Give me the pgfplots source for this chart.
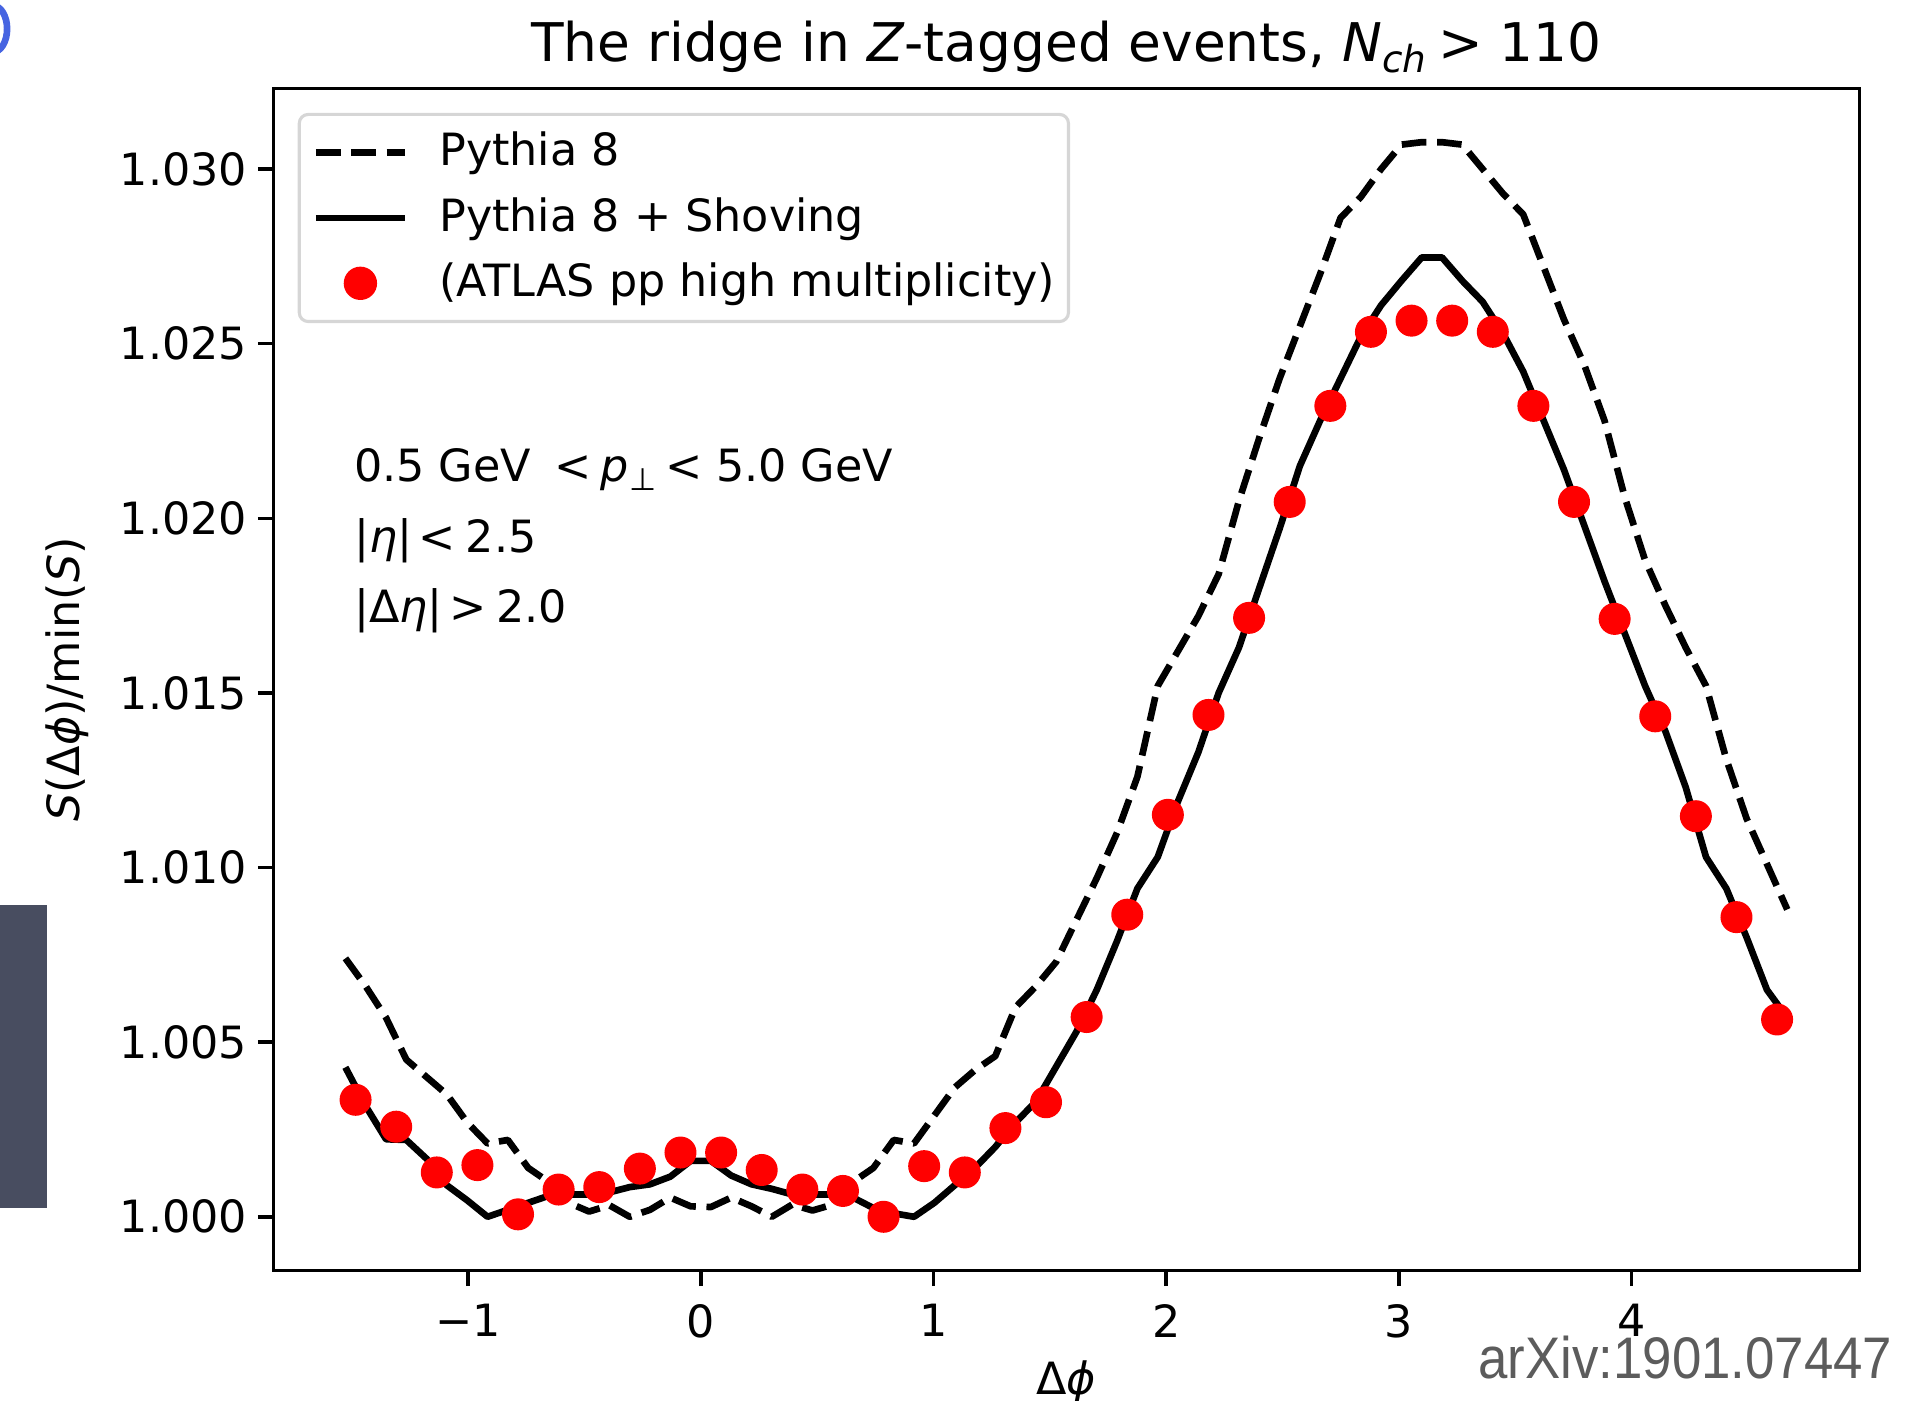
\documentclass[border=0pt]{standalone}
\usepackage{fontspec}
\setmainfont{DejaVu Sans}[ItalicFont={DejaVu Sans Oblique},BoldFont={DejaVu Sans Bold},BoldItalicFont={DejaVu Sans Bold Oblique}]
\newfontfamily\arxivfont{Liberation Sans}
\usepackage{pgfplots}
\pgfplotsset{compat=1.18}
\definecolor{legframe}{rgb}{0.84,0.84,0.84}
\definecolor{slidebar}{RGB}{72,77,96}
\definecolor{slideblue}{RGB}{70,100,225}
\definecolor{arxivgray}{RGB}{92,92,92}

\pgfplotstableread{
x y
-1.5272 1.00740
-1.4399 1.00660
-1.3526 1.00570
-1.2654 1.00450
-1.1781 1.00400
-1.0908 1.00350
-1.0036 1.00270
-0.9163 1.00210
-0.8290 1.00220
-0.7418 1.00140
-0.6545 1.00100
-0.5672 1.00040
-0.4800 1.00015
-0.3927 1.00033
-0.3054 1.00000
-0.2182 1.00020
-0.1309 1.00055
-0.0436 1.00030
0.0436 1.00028
0.1309 1.00055
0.2182 1.00030
0.3054 1.00000
0.3927 1.00035
0.4800 1.00018
0.5672 1.00035
0.6545 1.00100
0.7418 1.00140
0.8290 1.00220
0.9163 1.00210
1.0036 1.00290
1.0908 1.00370
1.1781 1.00420
1.2654 1.00460
1.3526 1.00600
1.4399 1.00660
1.5272 1.00730
1.6144 1.00850
1.7017 1.00970
1.7890 1.01100
1.8762 1.01260
1.9635 1.01520
2.0508 1.01620
2.1380 1.01720
2.2253 1.01840
2.3126 1.02050
2.3998 1.02230
2.4871 1.02400
2.5744 1.02550
2.6616 1.02700
2.7489 1.02860
2.8362 1.02920
2.9234 1.03000
3.0107 1.03070
3.0980 1.03077
3.1852 1.03077
3.2725 1.03070
3.3598 1.03000
3.4470 1.02930
3.5343 1.02870
3.6216 1.02720
3.7088 1.02570
3.7961 1.02440
3.8834 1.02280
3.9706 1.02060
4.0579 1.01880
4.1452 1.01750
4.2324 1.01630
4.3197 1.01520
4.4070 1.01310
4.4942 1.01140
4.5815 1.01010
4.6688 1.00880
}\pythia

\pgfplotstableread{
x y
-1.5272 1.00428
-1.4399 1.00317
-1.3526 1.00222
-1.2654 1.00220
-1.1781 1.00166
-1.0908 1.00090
-1.0036 1.00047
-0.9163 1.00000
-0.8290 1.00020
-0.7418 1.00040
-0.6545 1.00060
-0.5672 1.00064
-0.4800 1.00064
-0.3927 1.00070
-0.3054 1.00085
-0.2182 1.00093
-0.1309 1.00115
-0.0436 1.00160
0.0436 1.00160
0.1309 1.00118
0.2182 1.00093
0.3054 1.00080
0.3927 1.00064
0.4800 1.00064
0.5672 1.00064
0.6545 1.00055
0.7418 1.00025
0.8290 1.00010
0.9163 1.00000
1.0036 1.00040
1.0908 1.00090
1.1781 1.00140
1.2654 1.00200
1.3526 1.00270
1.4399 1.00330
1.5272 1.00430
1.6144 1.00530
1.7017 1.00650
1.7890 1.00790
1.8762 1.00940
1.9635 1.01030
2.0508 1.01190
2.1380 1.01330
2.2253 1.01500
2.3126 1.01630
2.3998 1.01800
2.4871 1.01970
2.5744 1.02150
2.6616 1.02280
2.7489 1.02400
2.8362 1.02520
2.9234 1.02610
3.0107 1.02680
3.0980 1.02747
3.1852 1.02747
3.2725 1.02680
3.3598 1.02620
3.4470 1.02530
3.5343 1.02420
3.6216 1.02280
3.7088 1.02140
3.7961 1.01980
3.8834 1.01820
3.9706 1.01670
4.0579 1.01520
4.1452 1.01390
4.2324 1.01230
4.3197 1.01030
4.4070 1.00940
4.4942 1.00800
4.5815 1.00650
4.6688 1.00570
}\shoving

\pgfplotstableread{
x y
-1.4835 1.00335
-1.3090 1.00258
-1.1345 1.00127
-0.9599 1.00148
-0.7854 1.00007
-0.6109 1.00078
-0.4363 1.00085
-0.2618 1.00138
-0.0873 1.00184
0.0873 1.00184
0.2618 1.00134
0.4363 1.00078
0.6109 1.00074
0.7854 1.00000
0.9599 1.00145
1.1345 1.00127
1.3090 1.00254
1.4835 1.00328
1.6581 1.00572
1.8326 1.00865
2.0071 1.01151
2.1817 1.01437
2.3562 1.01715
2.5307 1.02047
2.7053 1.02322
2.8798 1.02534
3.0543 1.02566
3.2289 1.02566
3.4034 1.02534
3.5779 1.02322
3.7525 1.02047
3.9270 1.01712
4.1015 1.01433
4.2761 1.01147
4.4506 1.00858
4.6251 1.00565
}\atlas

\begin{document}
\begin{tikzpicture}
\begin{axis}[
  at={(0pt,0pt)}, anchor=south west,
  scale only axis, width=356.9pt, height=266pt,
  xmin=-1.837, xmax=4.979, ymin=0.99846, ymax=1.03231,
  axis line style={line width=0.8pt, black},
  every tick/.style={black, line width=0.8pt},
  tick align=outside, major tick length=3.5pt,
  xtick pos=lower, ytick pos=left,
  xtick={-1,0,1,2,3,4}, xticklabels={−1,0,1,2,3,4},
  ytick={1.000,1.005,1.010,1.015,1.020,1.025,1.030},
  yticklabels={1.000,1.005,1.010,1.015,1.020,1.025,1.030},
  scaled y ticks=false, scaled x ticks=false,
  tick label style={font=\fontsize{10}{12}\selectfont},
  xticklabel style={anchor=north, inner sep=0pt, yshift=-3.9pt},
  yticklabel style={anchor=east, inner sep=0pt, xshift=-2.2pt},
  title={\fontsize{12}{14}\selectfont The ridge in \textit{Z}-tagged events, \textit{N}\raisebox{-2.4pt}{\fontsize{8.4}{9}\selectfont\textit{ch}}\hspace{2.6pt}> 110},
  every axis title/.style={at={(axis description cs:0.5,1.02256)}, anchor=base, inner sep=0pt},
  xlabel={Δ\textit{ϕ}},
  every axis x label/.style={at={(axis description cs:0.5,-0.1049)}, anchor=base, inner sep=0pt, font=\fontsize{10}{12}\selectfont},
  ylabel={\textit{S}(Δ\textit{ϕ})/min(\textit{S})},
  every axis y label/.style={at={(axis description cs:-0.1297,0.5)}, anchor=center, rotate=90, inner sep=0pt, font=\fontsize{10}{12}\selectfont},
  legend cell align=left,
  legend image code/.code={\draw[opacity=1, mark repeat=2,mark phase=2] plot coordinates {(0pt,0pt) (10pt,0pt) (20pt,0pt)};},
  legend style={at={(axis description cs:0.0154,0.9793)}, anchor=north west,
    draw=legframe, line width=0.7pt, rounded corners=2pt,
    fill=white, fill opacity=0.8, draw opacity=1, text opacity=1,
    inner xsep=3pt, inner ysep=3.6pt, row sep=4.7pt,
    font=\fontsize{10}{12}\selectfont,
    nodes={inner sep=0pt, text height=8pt, text depth=2pt},
    /tikz/every odd column/.append style={column sep=7pt}},
]
\addplot[black, line width=1.5pt, dash pattern=on 5.55pt off 2.4pt, line join=round] table[x=x,y=y] {\pythia};
\addlegendentry{Pythia 8}
\addplot[black, line width=1.5pt, line join=round] table[x=x,y=y] {\shoving};
\addlegendentry{Pythia 8 + Shoving}
\addplot[only marks, mark=*, mark size=3.4pt, red, mark options={fill=red, draw=none}] table[x=x,y=y] {\atlas};
\addlegendentry{(ATLAS pp high multiplicity)}

\node[anchor=base west, inner sep=0pt, font=\fontsize{10}{12}\selectfont] at (axis description cs:0.0504,0.6677)
  {0.5 GeV\hspace{5.3pt}<\hspace{2pt}\textit{p}\raisebox{-2pt}{\fontsize{7}{8}\selectfont ⊥}\hspace{2.2pt}<\hspace{2.9pt}5.0 GeV};
\node[anchor=base west, inner sep=0pt, font=\fontsize{10}{12}\selectfont] at (axis description cs:0.0504,0.6071)
  {|\textit{η}|\hspace{1.5pt}<\hspace{2.2pt}2.5};
\node[anchor=base west, inner sep=0pt, font=\fontsize{10}{12}\selectfont] at (axis description cs:0.0504,0.5481)
  {|Δ\textit{η}|\hspace{1.5pt}>\hspace{2.2pt}2.0};
\end{axis}
% slide-screenshot remnants around the figure
\fill[slidebar] (-61.5pt,14.1pt) rectangle (-51pt,82.3pt);
\draw[slideblue, line width=1.5pt] (-63.05pt,279.4pt) ellipse [x radius=3.15pt, y radius=5.2pt];
\node[anchor=base east, inner sep=0pt, text=arxivgray, font=\arxivfont\fontsize{13.2}{15}\selectfont, xscale=0.9] at (364.5pt,-24.35pt) {arXiv:1901.07447};
\pgfresetboundingbox
\path[use as bounding box] (-61.5pt,-29.3pt) rectangle (373pt,285.9pt);
\end{tikzpicture}
\end{document}
